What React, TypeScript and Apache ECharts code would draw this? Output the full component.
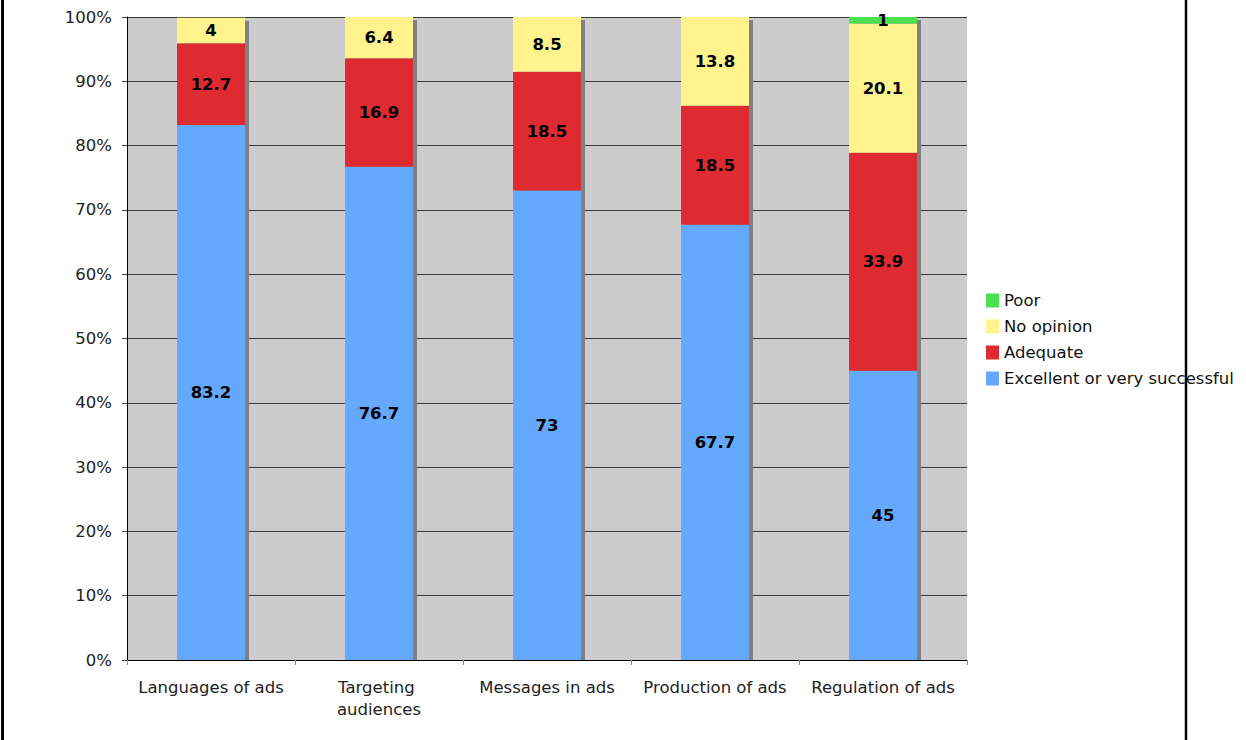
import React, { useEffect, useRef } from "react";
import * as echarts from "echarts";

const categories = [
  "Languages of ads",
  "Targeting audiences",
  "Messages in ads",
  "Production of ads",
  "Regulation of ads",
];
const excellent = [83.2, 76.7, 73, 67.7, 45];
const adequate = [12.7, 16.9, 18.5, 18.5, 33.9];
const noOpinion = [4, 6.4, 8.5, 13.8, 20.1];
const poor = [0, 0, 0, 0, 1];
const yTicks = { min: 0, max: 100, interval: 10 };

const FONT = "DejaVu Sans, Verdana, sans-serif";

export default function App() {
  const ref = useRef<HTMLDivElement>(null);
  useEffect(() => {
    if (!ref.current) return;
    const chart = echarts.init(ref.current, undefined, { renderer: "svg" });
    const totals = categories.map(
      (_, i) => excellent[i] + adequate[i] + noOpinion[i] + poor[i]
    );
    const label = {
      show: true,
      position: "inside",
      color: "#000",
      fontWeight: "bold",
      fontSize: 16.5,
      fontFamily: FONT,
      formatter: (p: any) => (p.value ? String(p.value) : ""),
    };
    const mk = (name: string, data: number[], color: string) => ({
      name,
      type: "bar",
      stack: "total",
      data,
      barWidth: 68,
      z: 3,
      itemStyle: { color },
      label,
    });
    chart.setOption({
      animation: false,
      textStyle: { fontFamily: FONT },
      grid: [
        {
          left: 127,
          right: 279,
          top: 17,
          bottom: 80,
          show: true,
          backgroundColor: "#cccccc",
          borderWidth: 0,
        },
        { left: 131, right: 275, top: 20, bottom: 80, show: false },
      ],
      legend: {
        orient: "vertical",
        left: 986,
        top: 292,
        padding: 0,
        itemWidth: 13,
        itemHeight: 14,
        itemGap: 9,
        icon: "rect",
        data: ["Poor", "No opinion", "Adequate", "Excellent or very successful"],
        textStyle: {
          fontSize: 16.5,
          lineHeight: 16,
          color: "#111",
          fontFamily: FONT,
        },
      },
      xAxis: [
        {
          type: "category",
          data: categories,
          gridIndex: 0,
          axisLine: { show: true, lineStyle: { color: "#000", width: 1 } },
          axisTick: { show: true, length: 5, lineStyle: { color: "#888" } },
          axisLabel: {
            color: "#222",
            fontSize: 16.5,
            fontFamily: FONT,
            margin: 16,
            lineHeight: 22,
            width: 160,
            overflow: "break",
            interval: 0,
          },
        },
        {
          type: "category",
          data: categories,
          gridIndex: 1,
          show: false,
        },
      ],
      yAxis: [
        {
          type: "value",
          gridIndex: 0,
          min: yTicks.min,
          max: yTicks.max,
          interval: yTicks.interval,
          axisLine: { show: true, lineStyle: { color: "#000", width: 1 } },
          axisTick: { show: true, length: 5, lineStyle: { color: "#444" } },
          splitLine: { show: true, lineStyle: { color: "#3a3a3a", width: 1 } },
          axisLabel: {
            formatter: "{value}%",
            color: "#222",
            fontSize: 16.5,
            fontFamily: FONT,
            margin: 15,
          },
        },
        {
          type: "value",
          gridIndex: 1,
          min: yTicks.min,
          max: yTicks.max,
          show: false,
          splitLine: { show: false },
        },
      ],
      series: [
        {
          name: "shadow",
          type: "bar",
          xAxisIndex: 1,
          yAxisIndex: 1,
          data: totals,
          barWidth: 68,
          silent: true,
          z: 1,
          itemStyle: { color: "#808080" },
          label: { show: false },
        },
        mk("Excellent or very successful", excellent, "#65a9ff"),
        mk("Adequate", adequate, "#de2b32"),
        mk("No opinion", noOpinion, "#fff38e"),
        mk("Poor", poor, "#4be050"),
      ],
      graphic: [
        {
          type: "line",
          z: 100,
          shape: { x1: 2.5, y1: 0, x2: 2.5, y2: 740 },
          style: { stroke: "#000", lineWidth: 3 },
        },
        {
          type: "line",
          z: 100,
          shape: { x1: 1186, y1: 0, x2: 1186, y2: 740 },
          style: { stroke: "#000", lineWidth: 2.5 },
        },
      ],
    });
    return () => chart.dispose();
  }, []);
  return (
    <div
      ref={ref}
      style={{ position: "absolute", left: 0, top: 0, width: 1246, height: 740 }}
    />
  );
}
